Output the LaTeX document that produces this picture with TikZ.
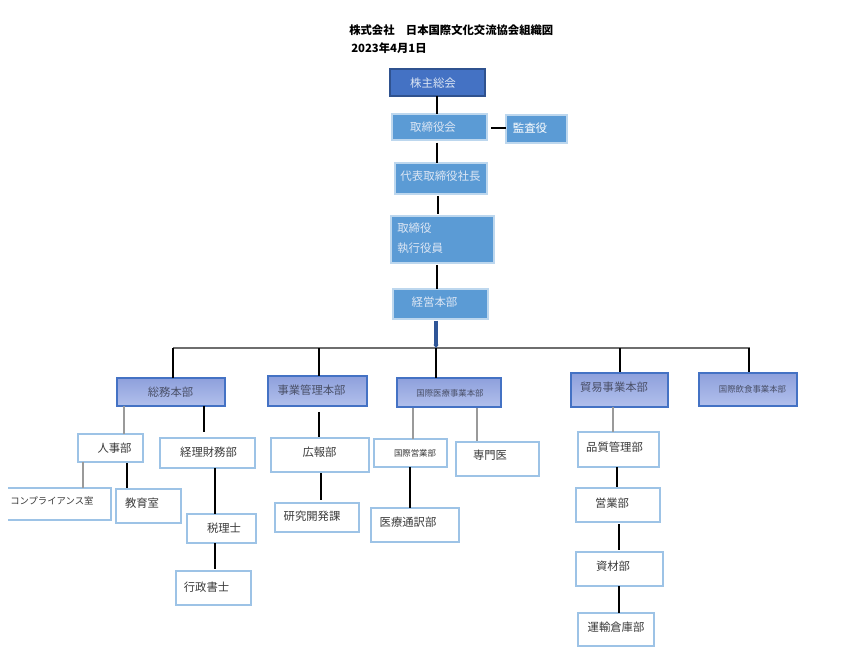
\documentclass[tikz,border=0pt]{standalone}
\usepackage{fontspec}
\setmainfont{Noto Sans CJK JP}
\usetikzlibrary{arrows.meta}
\definecolor{topblue}{HTML}{4472C4}
\definecolor{topborder}{HTML}{2F528F}
\definecolor{midblue}{HTML}{5B9BD5}
\definecolor{midborder}{HTML}{BDD7EE}
\definecolor{lighttext}{HTML}{DCE6F4}
\definecolor{gradtop}{HTML}{8EA0DC}
\definecolor{gradbot}{HTML}{B2C0EC}
\definecolor{gradborder}{HTML}{4472C4}
\definecolor{secttext}{HTML}{4A5068}
\definecolor{leafborder}{HTML}{9DC3E6}
\definecolor{leaftext}{HTML}{3A3A3A}
\definecolor{arrowblue}{HTML}{2F5597}
\definecolor{busgray}{HTML}{6E6E6E}
\definecolor{thingray}{HTML}{9A9A9A}
\tikzset{
  boxshape/.style={rectangle, inner sep=0pt, outer sep=0pt},
  lvltop/.style={boxshape, fill=topblue, draw=topborder, line width=1pt},
  lvlmid/.style={boxshape, fill=midblue, draw=midborder, line width=0.8pt},
  lvlsect/.style={boxshape, top color=gradtop, bottom color=gradbot, draw=gradborder, line width=0.8pt},
  lvlleaf/.style={boxshape, fill=white, draw=leafborder, line width=0.9pt},
  lvlopen/.style={boxshape, fill=white},
  txtlight/.style={inner sep=0pt, text=lighttext, font=\fontsize{8.6}{10}\selectfont},
  txtwhite/.style={inner sep=0pt, text=white, font=\fontsize{8.6}{10}\selectfont},
  txtsect/.style={inner sep=0pt, text=secttext, font=\fontsize{8.5}{10}\selectfont},
  txtsmall/.style={inner sep=0pt, text=secttext, font=\fontsize{6.3}{8}\selectfont},
  txtleaf/.style={inner sep=0pt, text=leaftext, font=\fontsize{8.5}{10}\selectfont},
  txtleafsmall/.style={inner sep=0pt, text=leaftext, font=\fontsize{6.3}{8}\selectfont},
  thickconn/.style={draw=black, line width=1.5pt},
  thinconn/.style={draw=thingray, line width=0.8pt},
  busline/.style={draw=busgray, line width=0.9pt},
}
% \bx{name}{x1}{y1}{x2}{y2}{boxstyle}{textstyle}{tx,ty}{text}
\newcommand\bx[9]{%
  \node[#6, minimum width={(#4-#2)*0.75pt}, minimum height={(#5-#3)*0.75pt}] (#1) at ({(#2+#4)/2},{(#3+#5)/2}) {};
  \node[#7] (#1-t) at (#8) {#9};}
% vertical connector \vc{from}{to}{x}{style}
\newcommand\vc[4]{\draw[#4] (#1.south -| #3,0) -- (#2.north -| #3,0);}
\begin{document}
\begin{tikzpicture}[x=0.75pt,y=-0.75pt]
\useasboundingbox (0,0) rectangle (850,648);
\fill[white] (0,0) rectangle (850,648);

% title
\node[inner sep=0pt, anchor=west, font=\bfseries\fontsize{8.5}{10}\selectfont] (title) at (349,30) {株式会社　日本国際文化交流協会組織図};
\node[inner sep=0pt, anchor=west, font=\bfseries\fontsize{8.5}{10}\selectfont] (date) at (351,48.5) {2023年4月1日};

% top chain
\bx{kabu}{390}{69}{485}{96}{lvltop}{txtlight}{433,83}{株主総会}
\bx{tori}{392}{114}{487}{140}{lvlmid}{txtlight}{433,127}{取締役会}
\bx{kansa}{506}{115}{567}{143}{lvlmid}{txtwhite}{530,128}{監査役}
\bx{daihyo}{395}{163}{487}{194}{lvlmid}{txtlight}{440.5,176.5}{代表取締役社長}
\node[lvlmid, minimum width={(494-391)*0.75pt}, minimum height={(263-216)*0.75pt}] (shikko) at ({(391+494)/2},{(216+263)/2}) {};
\node[txtlight, anchor=west] (shikko-t1) at (397,228) {取締役};
\node[txtlight, anchor=west] (shikko-t2) at (397,248) {執行役員};
\bx{keiei}{393}{289}{488}{319}{lvlmid}{txtlight}{434.5,302.5}{経営本部}

\vc{kabu}{tori}{437}{thickconn}
\draw[thickconn, shorten <=2pt] (tori.south -| 437,0) -- (daihyo.north -| 437,0);
\draw[thickconn, shorten <=1.5pt, shorten >=1.5pt] (daihyo.south -| 438,0) -- (shikko.north -| 438,0);
\draw[thickconn, shorten <=1.5pt] (shikko.south -| 437,0) -- (keiei.north -| 437,0);
\draw[thickconn, shorten <=3pt] (tori.east |- 0,128) -- (kansa.west |- 0,128);

% bus
\coordinate (busL) at (173,348);
\coordinate (busR) at (750,348);
\coordinate (busM) at (436,348);
\draw[busline] (busL) -- (busR);
\draw[draw=arrowblue, line width=2.3pt, shorten <=1.5pt, -{Stealth[length=2.5pt,width=4pt]}] (keiei.south -| busM) -- (busM);

% section heads
\bx{somu}{117}{378}{225}{406}{lvlsect}{txtsect}{170.5,392}{総務本部}
\bx{jigyo}{268}{376}{367}{406}{lvlsect}{txtsect}{311.5,390.5}{事業管理本部}
\bx{iryo}{397}{378}{501}{407}{lvlsect}{txtsmall}{450,393}{国際医療事業本部}
\bx{boeki}{571}{373}{668}{407}{lvlsect}{txtsect}{614,387}{貿易事業本部}
\bx{inshoku}{699}{373}{797}{406}{lvlsect}{txtsmall}{752.5,389}{国際飲食事業本部}

\draw[thickconn] (busL) -- (somu.north -| busL);
\draw[thickconn] (busL -| 319,0) -- (jigyo.north -| 319,0);
\draw[thickconn] (busM) -- (iryo.north -| busM);
\draw[thickconn, shorten >=1pt] (busL -| 620,0) -- (boeki.north -| 620,0);
\draw[thickconn, shorten >=1pt] (busR -| 749,0) -- (inshoku.north -| 749,0);

% leaves: somu
\bx{jinji}{78}{434}{143}{462}{lvlleaf}{txtleaf}{114.5,448}{人事部}
\bx{keiri}{160}{438}{255}{468}{lvlleaf}{txtleaf}{208.5,452.5}{経理財務部}
\node[lvlopen, minimum width={(111-8)*0.75pt}, minimum height={(520-488)*0.75pt}] (comp) at ({(8+111)/2},{(488+520)/2}) {};
\draw[draw=leafborder, line width=0.9pt] (comp.north west) -- (comp.north east) -- (comp.south east) -- (comp.south west);
\node[txtleafsmall, font=\fontsize{7}{8}\selectfont, anchor=west] (comp-t) at (10,501) {コンプライアンス室};
\bx{kyoiku}{116}{489}{181}{523}{lvlleaf}{txtleaf}{142,503}{教育室}
\bx{zeiri}{187}{514}{256}{543}{lvlleaf}{txtleaf}{224,528.5}{税理士}
\bx{gyosei}{176}{571}{251}{605}{lvlleaf}{txtleaf}{206.5,587}{行政書士}

\vc{somu}{jinji}{124}{thinconn}
\draw[thickconn, shorten >=4.5pt] (somu.south -| 204,0) -- (keiri.north -| 204,0);
\vc{jinji}{comp}{83}{thinconn}
\draw[thickconn, shorten <=1pt, shorten >=1pt] (jinji.south -| 127,0) -- (kyoiku.north -| 127,0);
\vc{keiri}{zeiri}{215}{thickconn}
\draw[thickconn, shorten >=1.5pt] (zeiri.south -| 215,0) -- (gyosei.north -| 215,0);

% leaves: jigyo
\bx{koho}{271}{438}{369}{472}{lvlleaf}{txtleaf}{319.5,452}{広報部}
\bx{kenkyu}{275}{503}{359}{532}{lvlleaf}{txtleaf}{312,516.5}{研究開発課}
\draw[thickconn, shorten <=4.5pt, shorten >=1pt] (jigyo.south -| 319,0) -- (koho.north -| 319,0);
\draw[thickconn, shorten <=1pt, shorten >=2pt] (koho.south -| 321,0) -- (kenkyu.north -| 321,0);

% leaves: iryo
\bx{eigyo1}{374}{439}{447}{467}{lvlleaf}{txtleafsmall}{415,453}{国際営業部}
\bx{senmon}{456}{442}{539}{476}{lvlleaf}{txtleaf}{490,455.5}{専門医}
\bx{tsuyaku}{371}{508}{459}{542}{lvlleaf}{txtleaf}{408,522}{医療通訳部}
\draw[thinconn, shorten <=1pt] (iryo.south -| 413,0) -- (eigyo1.north -| 413,0);
\draw[thinconn, shorten <=1pt, shorten >=1pt] (iryo.south -| 477,0) -- (senmon.north -| 477,0);
\vc{eigyo1}{tsuyaku}{410}{thickconn}

% leaves: boeki
\bx{hinshitsu}{578}{432}{659}{467}{lvlleaf}{txtleaf}{614.5,447.5}{品質管理部}
\bx{eigyo2}{576}{488}{660}{522}{lvlleaf}{txtleaf}{612,503}{営業部}
\bx{shizai}{576}{552}{663}{586}{lvlleaf}{txtleaf}{613,566}{資材部}
\bx{unyu}{578}{613}{654}{646}{lvlleaf}{txtleaf}{616,627.5}{運輸倉庫部}
\vc{boeki}{hinshitsu}{613}{thinconn}
\draw[thickconn, shorten >=1pt] (hinshitsu.south -| 617,0) -- (eigyo2.north -| 617,0);
\draw[thickconn, shorten <=1.5pt, shorten >=1.5pt] (eigyo2.south -| 619,0) -- (shizai.north -| 619,0);
\vc{shizai}{unyu}{619}{thickconn}
\end{tikzpicture}
\end{document}
